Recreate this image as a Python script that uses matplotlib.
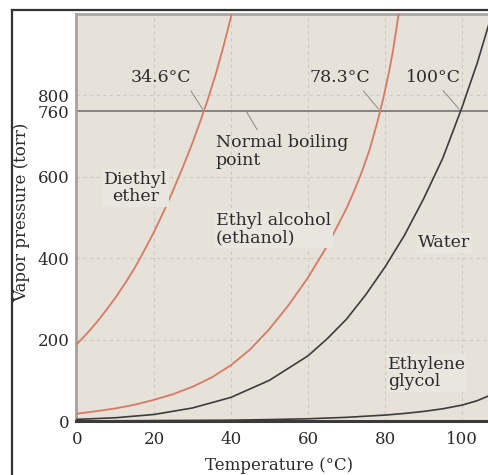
import matplotlib
matplotlib.use("Agg")
import matplotlib.pyplot as plt
from matplotlib.lines import Line2D

# ---- data ----
ether_T = [0, 2.5, 5, 7.5, 10, 12.5, 15, 17.5, 20, 22.5, 25, 27.5, 30, 32, 34, 36, 38, 40, 41]
ether_P = [189, 214, 241, 271, 303, 338, 376, 419, 464, 514, 567, 623, 683, 735, 790, 850, 918, 992, 1035]

ethanol_T = [0, 5, 10, 15, 20, 25, 30, 35, 40, 45, 50, 55, 60, 65, 70, 72, 74, 76, 78, 79.5, 81, 82, 83, 84]
ethanol_P = [18, 24, 31, 40, 52, 66, 84, 107, 137, 176, 226, 285, 352, 430, 522, 565, 612, 666, 733, 790, 855, 905, 965, 1030]

water_T = [0, 10, 20, 30, 40, 50, 60, 65, 70, 75, 80, 85, 90, 95, 100, 104, 107]
water_P = [4, 8, 16, 32, 58, 100, 160, 202, 250, 310, 378, 455, 545, 645, 770, 880, 975]

glycol_T = [0, 20, 40, 50, 60, 70, 80, 85, 90, 95, 100, 104, 107]
glycol_P = [0, 1, 2, 3.5, 5.5, 9, 14.5, 18.5, 23.5, 30, 39, 50, 62]

normal_bp = 760
x_ticks = [0, 20, 40, 60, 80, 100]
y_ticks = [0, 200, 400, 600, 760, 800]
grid_x = [20, 40, 60, 80, 100]
grid_y = [200, 400, 600, 800]

bp_labels = ["34.6°C", "78.3°C", "100°C"]

FONT = "DejaVu Serif"
TXT = "#2b2b2b"
RED = "#d87a62"
DARK = "#3c3c3c"

fig = plt.figure(figsize=(4.88, 4.75), dpi=100)
fig.patch.set_facecolor("white")

W, H = 488, 475
left, right, top, bottom = 76, 488, 14, 421
ax = fig.add_axes([left / W, (H - bottom) / H, (right - left) / W, (bottom - top) / H])
ax.set_facecolor("#e6e2da")
ax.set_xlim(-0.26, 106.75)
ax.set_ylim(0, 999)

for gx in grid_x:
    ax.axvline(gx, color="#cfcac1", lw=0.8, ls=(0, (3, 3)), zorder=1)
for gy in grid_y:
    ax.axhline(gy, color="#cfcac1", lw=0.8, ls=(0, (3, 3)), zorder=1)

ax.axhline(normal_bp, color="#7d7c78", lw=1.3, zorder=2)

ax.plot(ether_T, ether_P, color=RED, lw=1.3, zorder=3)
ax.plot(ethanol_T, ethanol_P, color=RED, lw=1.3, zorder=3)
ax.plot(water_T, water_P, color=DARK, lw=1.2, zorder=3)
ax.plot(glycol_T, glycol_P, color=DARK, lw=1.2, zorder=3)

ax.spines["right"].set_visible(False)
ax.spines["left"].set_color("#a3a29d")
ax.spines["left"].set_linewidth(2)
ax.spines["top"].set_color("#a9a8a3")
ax.spines["top"].set_linewidth(2)
ax.spines["bottom"].set_color("#3a3a3a")
ax.spines["bottom"].set_linewidth(2.2)
ax.spines["bottom"].set_zorder(5)

ax.set_xticks(x_ticks)
ax.set_yticks(y_ticks)
ax.set_xticklabels([str(v) for v in x_ticks])
ax.set_yticklabels([str(v) for v in y_ticks])
ax.tick_params(axis="both", length=0, labelsize=12, colors=TXT)
ax.tick_params(axis="x", pad=7)
ax.tick_params(axis="y", pad=4.5)
for lab in ax.get_xticklabels() + ax.get_yticklabels():
    lab.set_family(FONT)

fig.text(279 / W, 1 - 466 / H, "Temperature (°C)", ha="center", va="center",
         fontsize=12, family=FONT, color=TXT)
fig.text(22 / W, 1 - 212 / H, "Vapor pressure (torr)", ha="center", va="center",
         rotation=90, fontsize=12, family=FONT, color=TXT)

box = dict(facecolor="#e9e6e0", edgecolor="none", pad=1.0)
kw = dict(fontsize=12.5, family=FONT, color=TXT, zorder=4, linespacing=1.05)

bp_pos = [(21.8, 842), (68.3, 842), (92.7, 842)]
bp_lead = [((29.6, 810), (32.6, 766)), ((74.4, 810), (78.3, 766)), ((95.1, 811), (99.2, 766))]
for t, (x, y), ((x0, y0), (x1, y1)) in zip(bp_labels, bp_pos, bp_lead):
    ax.text(x, y, t, ha="center", va="center", **kw)
    ax.plot([x0, x1], [y0, y1], color="#8a8985", lw=0.7, zorder=2)

ax.text(36.1, 662, "Normal boiling\npoint", ha="left", va="center", **kw)
ax.plot([43.9, 46.8], [761, 715], color="#8a8985", lw=0.7, zorder=2)

ax.text(15.3, 572, "Diethyl\nether", ha="center", va="center", bbox=box, **kw)
ax.text(36.1, 471, "Ethyl alcohol\n(ethanol)", ha="left", va="center", bbox=box, **kw)
ax.text(88.6, 437, "Water", ha="left", va="center", bbox=box, **kw)
ax.text(80.8, 118, "Ethylene\nglycol", ha="left", va="center", bbox=box, **kw)

fig.add_artist(Line2D([11.5 / W, 11.5 / W], [0, 1 - 10 / H], color="#333333", lw=1.6))
fig.add_artist(Line2D([11.5 / W, 1], [1 - 10 / H, 1 - 10 / H], color="#333333", lw=1.6))

fig.savefig("out.png", dpi=100)
